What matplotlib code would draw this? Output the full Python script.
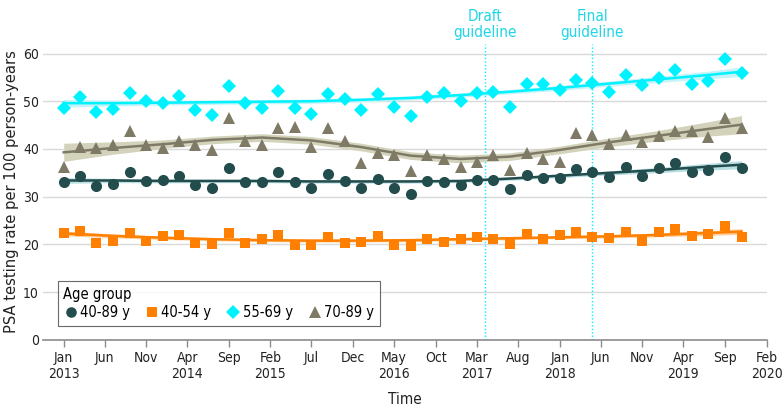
import matplotlib
matplotlib.use("Agg")
import matplotlib.pyplot as plt
from matplotlib.lines import Line2D
import pandas as pd
import numpy as np

# ---------------- data ----------------
dates = pd.date_range("2013-01-01", periods=42, freq="2MS")

rate_40_89 = [33.0, 34.4, 32.3, 32.7, 35.1, 33.3, 33.4, 34.4, 32.5,
              31.8, 36.1, 33.0, 33.0, 35.2, 33.1, 31.9, 34.7,
              33.2, 31.8, 33.8, 31.9, 30.6, 33.2, 33.0, 32.5, 33.4,
              33.4, 31.6, 34.6, 33.9, 33.9, 35.8, 35.1, 34.2,
              36.2, 34.4, 36.0, 37.0, 35.2, 35.6, 38.4, 36.1]
rate_40_54 = [22.5, 22.9, 20.4, 20.8, 22.4, 20.8, 21.7, 22.0, 20.3,
              20.1, 22.4, 20.3, 21.1, 22.0, 19.9, 19.9, 21.5,
              20.4, 20.6, 21.7, 19.8, 19.7, 21.2, 20.5, 21.2, 21.5,
              21.1, 20.1, 22.2, 21.1, 22.0, 22.6, 21.5, 21.4,
              22.7, 20.8, 22.7, 23.3, 21.7, 22.2, 23.9, 21.5]
rate_55_69 = [48.6, 50.9, 47.8, 48.4, 51.8, 50.0, 49.6, 51.0, 48.2,
              47.2, 53.3, 49.7, 48.6, 52.1, 48.6, 47.4, 51.6,
              50.5, 48.2, 51.5, 48.8, 47.0, 50.9, 51.7, 50.0, 51.7,
              51.9, 48.9, 53.7, 53.7, 52.4, 54.4, 53.8, 51.9,
              55.6, 53.5, 54.9, 56.5, 53.6, 54.3, 58.8, 56.0]
rate_70_89 = [36.3, 40.4, 40.3, 40.9, 43.8, 40.9, 40.2, 41.7, 40.9,
              39.7, 46.5, 41.6, 40.9, 44.5, 44.7, 40.4, 44.4,
              41.7, 37.0, 39.1, 38.8, 35.4, 38.8, 37.9, 36.3, 37.3,
              38.8, 35.5, 39.1, 37.9, 37.2, 43.3, 43.0, 41.1,
              43.0, 41.4, 42.8, 43.8, 43.7, 42.6, 46.5, 44.4]

# fitted trend at knot dates
trend_dates = pd.to_datetime(["2013-01-01", "2013-07-01", "2014-01-01", "2014-07-01",
                              "2015-01-01", "2015-07-01", "2016-01-01", "2016-07-01",
                              "2017-01-01", "2017-07-01", "2018-01-01", "2018-07-01",
                              "2019-01-01", "2019-07-01", "2019-11-01"])
trend_40_89 = [33.4, 33.4, 33.3, 33.3, 33.3, 33.2, 33.2, 33.2, 33.3, 33.8, 34.4, 35.0, 35.6, 36.3, 36.7]
ci_40_89 = [0.6, 0.45, 0.4, 0.35, 0.35, 0.35, 0.35, 0.35, 0.35, 0.35, 0.4, 0.45, 0.55, 0.7, 0.85]
trend_40_54 = [22.3, 21.8, 21.4, 21.1, 20.9, 20.8, 20.8, 20.9, 21.1, 21.3, 21.5, 21.7, 22.0, 22.4, 22.7]
ci_40_54 = [0.5, 0.4, 0.35, 0.3, 0.3, 0.3, 0.3, 0.3, 0.3, 0.3, 0.3, 0.35, 0.4, 0.5, 0.6]
trend_55_69 = [49.6, 49.6, 49.7, 49.8, 49.9, 50.0, 50.3, 50.7, 51.3, 52.0, 52.8, 53.7, 54.6, 55.5, 56.2]
ci_55_69 = [0.8, 0.6, 0.5, 0.45, 0.45, 0.45, 0.45, 0.45, 0.45, 0.45, 0.5, 0.55, 0.65, 0.8, 1.0]
trend_70_89 = [39.3, 40.2, 41.0, 41.9, 42.4, 41.8, 40.4, 38.6, 37.9, 38.4, 39.8, 41.4, 42.8, 44.2, 45.1]
ci_70_89 = [1.9, 1.3, 0.9, 0.8, 0.8, 0.8, 0.8, 0.8, 0.8, 0.8, 0.8, 0.9, 1.1, 1.5, 1.9]

guideline_dates = pd.to_datetime(["2017-04-01", "2018-05-01"])
guideline_labels = ["Draft\nguideline", "Final\nguideline"]

tick_dates = pd.date_range("2013-01-01", "2020-02-01", freq="5MS")
tick_labels = ["Jan\n2013", "Jun", "Nov", "Apr\n2014", "Sep", "Feb\n2015", "Jul", "Dec",
               "May\n2016", "Oct", "Mar\n2017", "Aug", "Jan\n2018", "Jun", "Nov",
               "Apr\n2019", "Sep", "Feb\n2020"]
series_labels = ["40-89 y", "40-54 y", "55-69 y", "70-89 y"]

# ---------------- style ----------------
plt.rcParams['font.family'] = ['DejaVu Sans']
plt.rcParams['font.stretch'] = 'condensed'

c_dark = "#234c4c"
c_orange = "#ff8000"
c_cyan = "#00f2ff"
c_gray = "#7f7a66"
band_dark = "#b9dfe3"
band_orange = "#ffcf9c"
band_cyan = "#c4f3fa"
band_gray = "#d3d3bc"

fig = plt.figure(figsize=(7.83, 4.15), dpi=100)
ax = fig.add_axes([0.055, 0.181, 0.924, 0.713])

series = [
    (rate_40_89, trend_40_89, ci_40_89, c_dark, band_dark, "o", 8.0),
    (rate_40_54, trend_40_54, ci_40_54, c_orange, band_orange, "s", 7.5),
    (rate_55_69, trend_55_69, ci_55_69, c_cyan, band_cyan, "D", 7.0),
    (rate_70_89, trend_70_89, ci_70_89, c_gray, band_gray, "^", 8.5),
]

for vals, tr, ci, col, bcol, mk, ms in series:
    tr = np.array(tr); ci = np.array(ci)
    ax.fill_between(trend_dates, tr - ci, tr + ci, color=bcol, lw=0, zorder=2)
    ax.plot(dates, vals, linestyle="none", marker=mk, markersize=ms,
            color=col, markeredgewidth=0, zorder=3)
    ax.plot(trend_dates, tr, color=col, lw=1.8, zorder=4)

for d, lab in zip(guideline_dates, guideline_labels):
    ax.axvline(d, color=c_cyan, lw=1.0, ls=(0, (1, 1.5)), zorder=1)
    ax.text(d, 62.8, lab, color="#1fd5e6", ha="center", va="bottom",
            fontsize=11, linespacing=1.1, clip_on=False)

ax.set_ylim(0, 62)
ax.set_xlim(pd.Timestamp("2012-10-17"), pd.Timestamp("2020-02-01"))
ax.set_yticks([0, 10, 20, 30, 40, 50, 60])
ax.yaxis.grid(True, color="#d9d9d9", lw=1.0, zorder=0)
ax.set_axisbelow(True)
ax.set_xticks(tick_dates)
ax.set_xticklabels(tick_labels)

for s in ["top", "right", "left"]:
    ax.spines[s].set_visible(False)
ax.spines["bottom"].set_color("#8c8c8c")
ax.spines["bottom"].set_linewidth(1.2)
ax.tick_params(axis="x", colors="#8c8c8c", length=5, width=1, labelsize=10,
               labelcolor="#222222", pad=3)
ax.tick_params(axis="y", length=0, labelsize=10, labelcolor="#222222", pad=3)
ax.set_xlabel("Time", fontsize=11, color="#222222", labelpad=8)
ax.set_ylabel("PSA testing rate per 100 person-years", fontsize=11.8, color="#222222", labelpad=3)

handles = [Line2D([], [], linestyle="none", marker=m, markersize=ms * 0.95, color=c,
                  markeredgewidth=0) for (_, _, _, c, _, m, ms) in series]
leg = ax.legend(handles, series_labels, title="Age group", ncol=4,
                loc="lower left", bbox_to_anchor=(0.02, 0.047), borderaxespad=0,
                fontsize=10.5, title_fontsize=10.5, frameon=True, fancybox=False,
                edgecolor="#444444", handletextpad=0.15, columnspacing=1.0,
                borderpad=0.4, handlelength=1.0, labelspacing=0.2)
leg._legend_box.align = "left"
leg.get_frame().set_linewidth(0.8)

fig.savefig("out.png", dpi=100)
